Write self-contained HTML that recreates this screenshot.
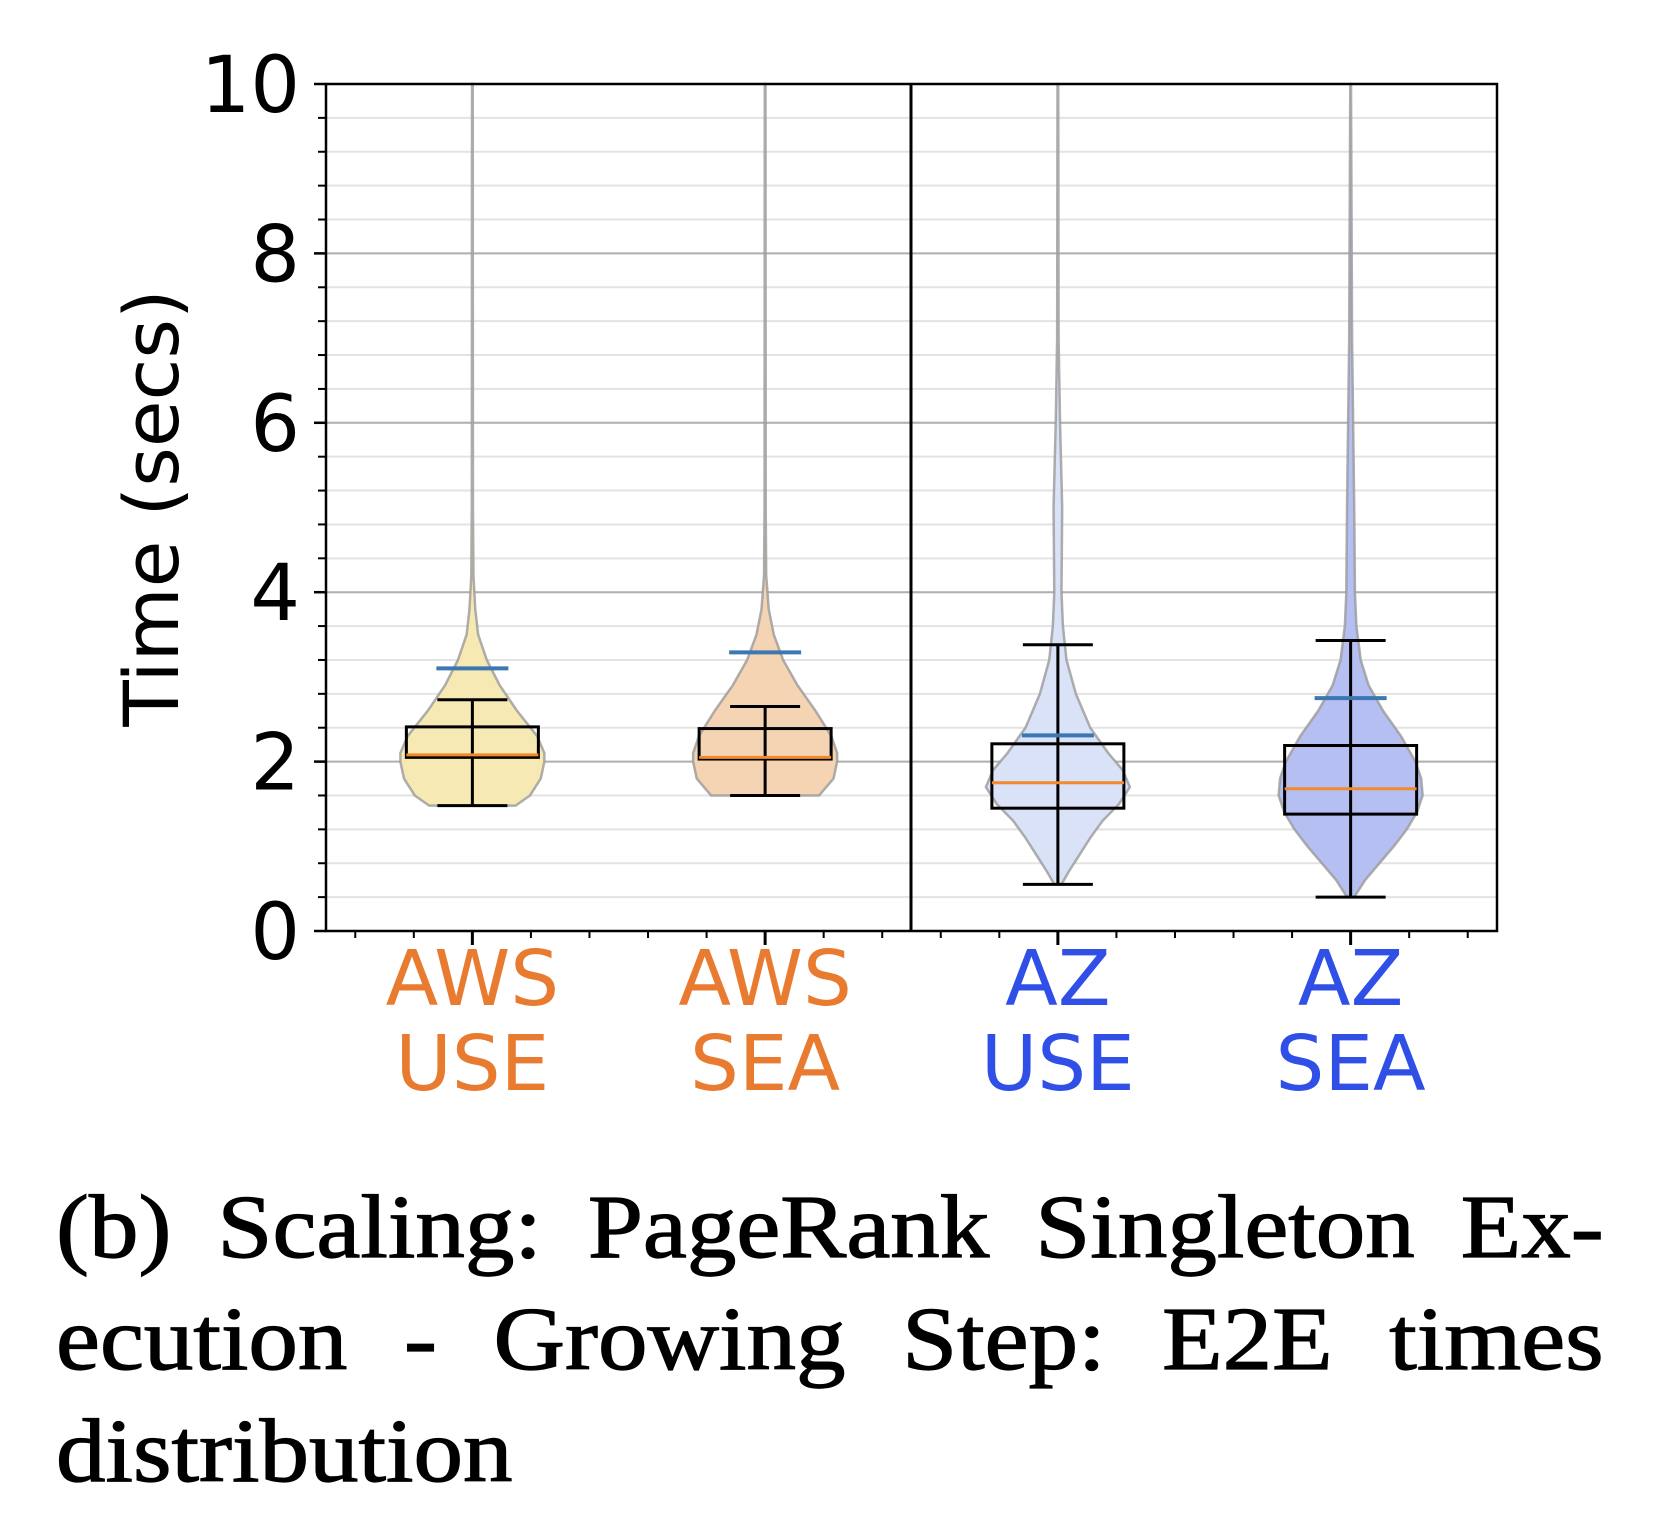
<!DOCTYPE html>
<html><head><meta charset="utf-8"><style>
html,body{margin:0;padding:0;background:#fff;}
body{width:1660px;height:1534px;position:relative;overflow:hidden;}
svg{position:absolute;left:0;top:0;}
#caption{position:absolute;left:56px;top:1172px;width:1548px;font-family:"Liberation Serif",serif;font-size:90px;line-height:112px;color:#000;-webkit-text-stroke:1.2px #000;}
.jl{width:1407px;text-align:justify;text-align-last:justify;white-space:nowrap;transform:scaleX(1.1);transform-origin:0 0;}
.ll{text-align:left;transform:scaleX(1.1);transform-origin:0 0;}
</style></head><body>
<svg id="chart" width="1660" height="1160" xmlns="http://www.w3.org/2000/svg"></svg>
<div id="caption"><div class="jl">(b) Scaling: PageRank Singleton Ex-</div><div class="jl">ecution - Growing Step: E2E times</div><div class="ll">distribution</div></div>
<script>
const categories = [["AWS","USE"],["AWS","SEA"],["AZ","USE"],["AZ","SEA"]];
const labelColors = ["#e87b2f","#e87b2f","#2f4fe6","#2f4fe6"];
const fillColors = ["#f7e9b4","#f5d4b4","#d9e2f6","#b6bff2"];
const p99 = [3.1, 3.29, 2.31, 2.75];
const whiskerHigh = [2.73, 2.65, 3.38, 3.43];
const q3 = [2.41, 2.39, 2.21, 2.19];
const medians = [2.08, 2.05, 1.75, 1.68];
const q1 = [2.05, 2.03, 1.45, 1.38];
const whiskerLow = [1.48, 1.6, 0.55, 0.4];
const violinLevels = [
 [1.48,1.6,1.8,2.0,2.1,2.3,2.6,2.9,3.2,3.5,3.8,4.2,5,10],
 [1.6,1.8,2.0,2.1,2.3,2.6,2.9,3.2,3.5,3.8,4.2,5,10],
 [0.55,0.7,0.9,1.1,1.3,1.5,1.7,1.9,2.1,2.4,2.8,3.2,3.6,4,5,6,7,10],
 [0.4,0.6,0.8,1.0,1.2,1.4,1.6,1.8,2.0,2.3,2.6,2.9,3.2,3.6,4,5,6,7,10]
];
const violinWidths = [
 [0.6,0.8,0.95,1.0,1.0,0.9,0.62,0.38,0.2,0.08,0.04,0.015,0.008,0.005],
 [0.75,0.95,1,1,0.92,0.7,0.45,0.25,0.12,0.05,0.015,0.008,0.005],
 [0.05,0.15,0.3,0.45,0.62,0.85,1,0.9,0.7,0.45,0.25,0.12,0.07,0.05,0.06,0.03,0.01,0.005],
 [0.05,0.2,0.4,0.6,0.78,0.92,1,0.98,0.9,0.7,0.45,0.25,0.14,0.08,0.06,0.05,0.035,0.02,0.005]
];
const yTicks = [0,2,4,6,8,10];

const svg = document.getElementById('chart');
const NS = "http://www.w3.org/2000/svg";
const L=326, R=1497, T=84, B=931;
const yMin=0,yMax=10,xMin=-0.5,xMax=3.5;
const y = v => B - (v-yMin)/(yMax-yMin)*(B-T);
const x = i => L + (i-xMin)/(xMax-xMin)*(R-L);
const maxHalf = 72;
function mk(tag, attrs, parent){const e=document.createElementNS(NS,tag);for(const k in attrs)e.setAttribute(k,attrs[k]);(parent||svg).appendChild(e);return e;}

for(let v=0; v<=10.001; v+=0.4){
  const g=mk('line',{x1:L,x2:R,y1:y(v),y2:y(v),stroke:'#e3e3e3','stroke-width':2});
  
  
  const t=mk('line',{x1:L-8,x2:L,y1:y(v),y2:y(v),stroke:'#000','stroke-width':2});
  
  
}
yTicks.forEach(v=>{
  const g=mk('line',{x1:L,x2:R,y1:y(v),y2:y(v),stroke:'#b0b0b0','stroke-width':2});
  
  
  const t=mk('line',{x1:L-12,x2:L,y1:y(v),y2:y(v),stroke:'#000','stroke-width':2.5});
  
  
  const tx=mk('text',{x:300,y:y(v)+28,'text-anchor':'end','font-family':'DejaVu Sans, Liberation Sans, sans-serif','font-size':78,fill:'#000'});
  tx.textContent=v;
  
  
});
for(let v=-0.4; v<3.5; v+=0.2){
  const major = Math.abs(v-Math.round(v))<0.01;
  const t=mk('line',{x1:x(v),x2:x(v),y1:B,y2:B+(major?14:7),stroke:'#000','stroke-width':major?3:2});
  
  
}

categories.forEach((c,i)=>{
  const cx=x(i), lv=violinLevels[i], w=violinWidths[i];
  let pts=[];
  for(let k=0;k<lv.length;k++) pts.push([cx+w[k]*maxHalf, y(lv[k])]);
  for(let k=lv.length-1;k>=0;k--) pts.push([cx-w[k]*maxHalf, y(lv[k])]);
  const p=mk('polygon',{points:pts.map(p=>p.join(',')).join(' '),fill:fillColors[i],stroke:'#9a9a9a','stroke-width':2.5,'stroke-opacity':0.8});
  
  
  const bw=66, cw=35;
  const wl=mk('line',{x1:cx,x2:cx,y1:y(whiskerLow[i]),y2:y(whiskerHigh[i]),stroke:'#000','stroke-width':3});
  
  
  [whiskerLow[i],whiskerHigh[i]].forEach(v=>{
    const cap=mk('line',{x1:cx-cw,x2:cx+cw,y1:y(v),y2:y(v),stroke:'#000','stroke-width':3});
    
    
  });
  const box=mk('rect',{x:cx-bw,y:y(q3[i]),width:2*bw,height:y(q1[i])-y(q3[i]),fill:'none',stroke:'#000','stroke-width':3});
  
  
  const md=mk('line',{x1:cx-bw,x2:cx+bw,y1:y(medians[i]),y2:y(medians[i]),stroke:'#f08a2c','stroke-width':3});
  
  
  const pm=mk('line',{x1:cx-36,x2:cx+36,y1:y(p99[i]),y2:y(p99[i]),stroke:'#3b77b0','stroke-width':4});
  
  
  c.forEach((s,j)=>{
    const tx=mk('text',{x:cx,y:1005+j*85,'text-anchor':'middle','font-family':'DejaVu Sans, Liberation Sans, sans-serif','font-size':77,fill:labelColors[i]});
    tx.textContent=s;
    
    
  });
});
const sep=mk('line',{x1:911,x2:911,y1:T,y2:B,stroke:'#000','stroke-width':3});


const fr=mk('rect',{x:L,y:T,width:R-L,height:B-T,fill:'none',stroke:'#000','stroke-width':2.5});


const yl=mk('text',{x:0,y:0,transform:'translate(178,508) rotate(-90)','text-anchor':'middle','font-family':'DejaVu Sans, Liberation Sans, sans-serif','font-size':76,fill:'#000'});
yl.textContent='Time (secs)';


</script>
</body></html>
